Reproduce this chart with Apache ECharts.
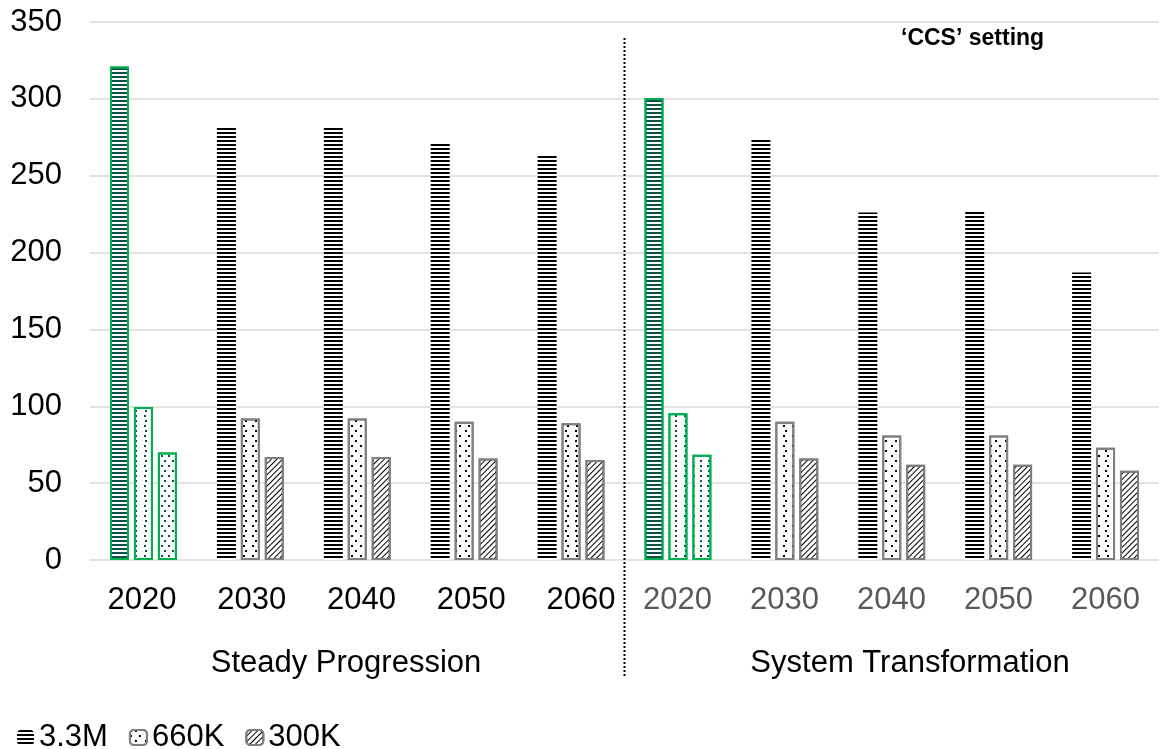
<!DOCTYPE html>
<html>
<head>
<meta charset="utf-8">
<script src="https://cdn.jsdelivr.net/npm/echarts@6/dist/echarts.min.js"></script>
<style>
html,body{margin:0;padding:0;background:#fff;}
#main{width:1159px;height:749px;}
</style>
</head>
<body>
<div id="main"></div>
<script>
const categories = ['2020','2030','2040','2050','2060','2020','2030','2040','2050','2060'];
const scenarios = ['Steady Progression','System Transformation'];
const seriesNames = ['3.3M','660K','300K'];
const s33M = [321, 281, 281, 272, 264, 300.5, 274, 226, 227, 187];
const s660K = [99.5, 92, 92, 90, 89, 95.5, 90, 81, 81, 73];
const s300K = [70, 67, 67, 66, 65, 68.5, 66, 62, 62, 58];
const highlighted = [0, 5];
const yMin = 0, yMax = 350, yStep = 50;
const note = '\u2018CCS\u2019 setting';

const FONT = 'Liberation Sans, Arial, sans-serif';
const TEAL = '#0E4F4A';
const GREEN = '#00B050';
const GRAY = '#7F7F7F';

function hLines(c){ return {symbol:'rect', symbolSize:1, dashArrayX:[1,0], dashArrayY:[2,2], rotation:0, color:c}; }
function dots(c){ return {symbol:'rect', symbolSize:1, dashArrayX:[[2,7],[0,4.5,2,2.5]], dashArrayY:[2,3], rotation:0, color:c}; }
function dots2(c){ return {symbol:'rect', symbolSize:1, dashArrayX:[[2,5],[0,3.5,2,1.5]], dashArrayY:[2,3], rotation:0, color:c}; }
function diag(c){ return {symbol:'rect', symbolSize:1, dashArrayX:[1,0], dashArrayY:[1,3], rotation:-Math.PI/4, color:c}; }

const decals = [hLines, dots, diag];
const hiDecals = [hLines, dots, dots2];
const values = [s33M, s660K, s300K];

function buildData(vals, di){
  return vals.map((v, i) => {
    if (highlighted.indexOf(i) >= 0) {
      return {value: v, itemStyle: {color:'#fff', borderColor: GREEN, borderWidth: 2, decal: hiDecals[di](TEAL)}};
    }
    return v;
  });
}

const chart = echarts.init(document.getElementById('main'), null, {renderer:'canvas'});

const series = seriesNames.map((name, di) => ({
  name: name,
  type: 'bar',
  xAxisIndex: 0, yAxisIndex: 0,
  barWidth: 19,
  barGap: '26%',
  data: buildData(values[di], di),
  itemStyle: {
    color: '#fff',
    borderColor: di === 0 ? '#000' : GRAY,
    borderWidth: di === 0 ? 0 : 2,
    decal: decals[di]('#000')
  },
  emphasis: {disabled: true},
  animation: false
}));

chart.setOption({
  animation: false,
  textStyle: {fontFamily: FONT},
  title: {
    text: note, left: 901, top: 27, padding: 0,
    textStyle: {fontSize: 23, fontWeight: 'bold', color: '#000', fontFamily: FONT}
  },
  legend: {
    data: seriesNames, left: 12, top: 717, itemWidth: 17, itemHeight: 15, itemGap: 21,
    textStyle: {fontSize: 31, color: '#000', fontFamily: FONT},
    selectedMode: false
  },
  grid: [
    {left: 90, right: -3, top: 22, bottom: 189},
    {left: 87, width: 549, top: 22, bottom: 189},
    {left: 624, width: 548, top: 22, bottom: 189}
  ],
  xAxis: [
    {type: 'category', gridIndex: 0, data: categories, axisLine: {show: false}, axisTick: {show: false}, axisLabel: {show: false}, splitLine: {show: false}},
    {type: 'category', gridIndex: 1, data: categories.slice(0,5), axisLine: {show: false}, axisTick: {show: false}, splitLine: {show: false},
      axisLabel: {fontSize: 31, color: '#000', margin: 25, fontFamily: FONT}},
    {type: 'category', gridIndex: 2, data: categories.slice(5), axisLine: {show: false}, axisTick: {show: false}, splitLine: {show: false},
      axisLabel: {fontSize: 31, color: '#595959', margin: 25, fontFamily: FONT}}
  ],
  yAxis: [
    {type: 'value', gridIndex: 0, min: yMin, max: yMax, interval: yStep,
      axisLine: {show: false}, axisTick: {show: false},
      axisLabel: {fontSize: 31, color: '#000', margin: 28, fontFamily: FONT},
      splitLine: {lineStyle: {color: '#D9D9D9', width: 1.5}}},
    {type: 'value', gridIndex: 1, show: false, min: 0, max: 1},
    {type: 'value', gridIndex: 2, show: false, min: 0, max: 1}
  ],
  series: series
});

const x4 = chart.convertToPixel({xAxisIndex: 0}, categories.length/2 - 1);
const x5 = chart.convertToPixel({xAxisIndex: 0}, categories.length/2);
const xDiv = (x4 + x5) / 2;
const xLeftC = 346, xRightC = 910;

chart.setOption({
  graphic: [
    {type: 'line', shape: {x1: xDiv, y1: 38, x2: xDiv, y2: 678}, style: {stroke: '#000', lineWidth: 2, lineDash: [2, 2]}, silent: true},
    {type: 'text', x: xLeftC, y: 663, style: {text: scenarios[0], font: '31px ' + FONT, fill: '#000', textAlign: 'center', textVerticalAlign: 'middle'}},
    {type: 'text', x: xRightC, y: 663, style: {text: scenarios[1], font: '31px ' + FONT, fill: '#000', textAlign: 'center', textVerticalAlign: 'middle'}}
  ]
});
</script>
</body>
</html>
